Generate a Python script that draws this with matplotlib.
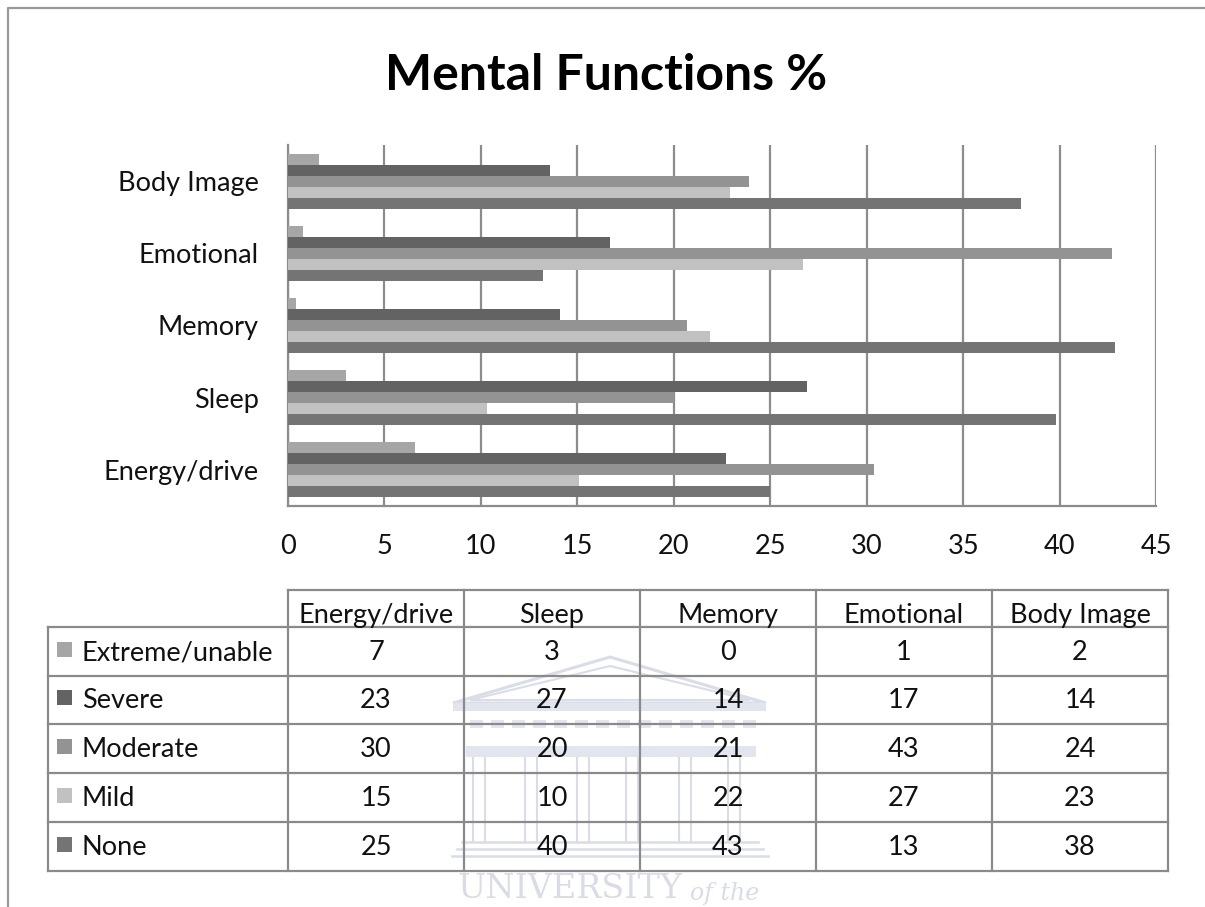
import matplotlib
matplotlib.use("Agg")
import matplotlib.pyplot as plt
from matplotlib.patches import Rectangle, Polygon
import numpy as np

# percentages per area, bottom-to-top order on the chart
CATEGORIES = ["Energy/drive", "Sleep", "Memory", "Emotional", "Body Image"]
SEVERITY = ["Extreme/unable", "Severe", "Moderate", "Mild", "None"]
extreme = [6.6, 3.0, 0.4, 0.8, 1.6]
severe = [22.7, 26.9, 14.1, 16.7, 13.6]
moderate = [30.4, 20.0, 20.7, 42.7, 23.9]
mild = [15.1, 10.3, 21.9, 26.7, 22.9]
none = [25.0, 39.8, 42.9, 13.2, 38.0]
SERIES = [extreme, severe, moderate, mild, none]
COLORS = ["#a6a6a6", "#636363", "#939393", "#c1c1c1", "#747474"]
XTICKS = list(range(0, 46, 5))

W, H = 1205, 907
GRID = "#8c8c8c"
LINE = "#8a8a8a"
TXT = "#111111"
FONT = ["Lato", "DejaVu Sans"]
FS = 19.5

plt.rcParams["font.family"] = FONT

fig = plt.figure(figsize=(W / 100, H / 100), dpi=100)

# overlay in pixel coordinates for the frame, data table and watermark
ov = fig.add_axes([0, 0, 1, 1], zorder=0)
ov.set_xlim(0, W)
ov.set_ylim(H, 0)
ov.axis("off")

# chart frame (only left and top edges show)
ov.plot([8, 8, W], [H, 8, 8], color="#9a9a9a", lw=1.6, solid_capstyle="butt")

# faint watermark behind the table
wm = "#dadde8"
ov.add_patch(Polygon([[453, 703], [610, 657], [766, 703]], closed=True,
                     fill=False, ec=wm, lw=2.2, zorder=1))
ov.add_patch(Polygon([[470, 700], [610, 666], [750, 700]], closed=True,
                     fill=False, ec=wm, lw=1.5, zorder=1))
ov.add_patch(Rectangle((453, 703), 313, 8, fc="#e3e5ee", ec="none", zorder=1))
for xx in np.arange(470, 755, 21):
    ov.add_patch(Rectangle((xx, 720), 13, 8, fc="#e3e5ee", ec="none", zorder=1))
ov.add_patch(Rectangle((466, 746), 290, 11, fc="#e3e5ee", ec="none", zorder=1))
for cx in [479, 531, 583, 632, 685, 734]:
    for dx in (-6, 6):
        ov.plot([cx + dx, cx + dx], [758, 842], color=wm, lw=1.5, zorder=1)
for k, yy in enumerate([842, 849, 856]):
    ov.plot([462 - 5 * k, 758 + 5 * k], [yy, yy], color=wm, lw=1.8, zorder=1)
ov.text(682, 905, "UNIVERSITY", fontsize=24, family="DejaVu Serif",
        color="#d9dce6", ha="right", va="bottom", zorder=1)
ov.text(690, 905, "of the", fontsize=17, family="DejaVu Serif",
        style="italic", color="#d9dce6", ha="left", va="bottom", zorder=1)

# bar chart
ax = fig.add_axes([288 / W, 1 - 506 / H, 868 / W, 361 / H], zorder=2)
ax.patch.set_alpha(0)
y = np.arange(len(CATEGORIES))
h = 0.152
for i, vals in enumerate(SERIES):
    ax.barh(y + (2 - i) * h, vals, height=h, color=COLORS[i], lw=0,
            label=SEVERITY[i], zorder=3)

ax.set_xlim(0, 45)
ax.set_ylim(-0.5, len(CATEGORIES) - 0.5)
ax.set_xticks(XTICKS)
ax.set_yticks(y)
ax.set_yticklabels(CATEGORIES)
ax.xaxis.grid(True, color=GRID, lw=1.6, zorder=0)
ax.set_axisbelow(True)
for side in ("top", "right"):
    ax.spines[side].set_visible(False)
for side in ("left", "bottom"):
    ax.spines[side].set_color(GRID)
    ax.spines[side].set_linewidth(1.6)
ax.tick_params(axis="x", length=0, pad=20, labelsize=FS, labelcolor=TXT)
ax.tick_params(axis="y", length=0, pad=21, labelsize=FS, labelcolor=TXT)

fig.text(0.503, 1 - 75 / H, "Mental Functions %", ha="center", va="center",
         fontsize=36, fontweight="bold", color="#000000")

# data table under the chart
col_edges = [288, 464, 640, 816, 992, 1168]
row_edges = [627, 676, 724, 773, 822, 871]
head_top = 590
left = 48
ov.plot([col_edges[0], col_edges[-1]], [head_top, head_top], color=LINE, lw=1.6)
for ry in row_edges:
    ov.plot([left, col_edges[-1]], [ry, ry], color=LINE, lw=1.6)
ov.plot([left, left], [row_edges[0], row_edges[-1]], color=LINE, lw=1.6)
for cx in col_edges:
    ov.plot([cx, cx], [head_top, row_edges[-1]], color=LINE, lw=1.6)

# header labels sit low in their row and are clipped by its bottom edge
head_clip = Rectangle((col_edges[0], head_top), col_edges[-1] - col_edges[0],
                      row_edges[0] - head_top, transform=ov.transData)
for j, cat in enumerate(CATEGORIES):
    cx = (col_edges[j] + col_edges[j + 1]) / 2
    t = ov.text(cx, 623, cat, ha="center", va="baseline", fontsize=FS,
                color=TXT, zorder=3)
    t.set_clip_path(head_clip)

for i, vals in enumerate(SERIES):
    cy = (row_edges[i] + row_edges[i + 1]) / 2
    ov.add_patch(Rectangle((57, cy - 10), 15, 15, fc=COLORS[i], ec="none",
                           zorder=3))
    ov.text(82, cy + 1, SEVERITY[i], ha="left", va="center", fontsize=FS,
            color=TXT, zorder=3)
    for j, v in enumerate(vals):
        cx = (col_edges[j] + col_edges[j + 1]) / 2
        ov.text(cx, cy + 1, f"{v:.0f}", ha="center", va="center",
                fontsize=FS, color=TXT, zorder=3)

fig.savefig("out.png", dpi=100, facecolor="white")
